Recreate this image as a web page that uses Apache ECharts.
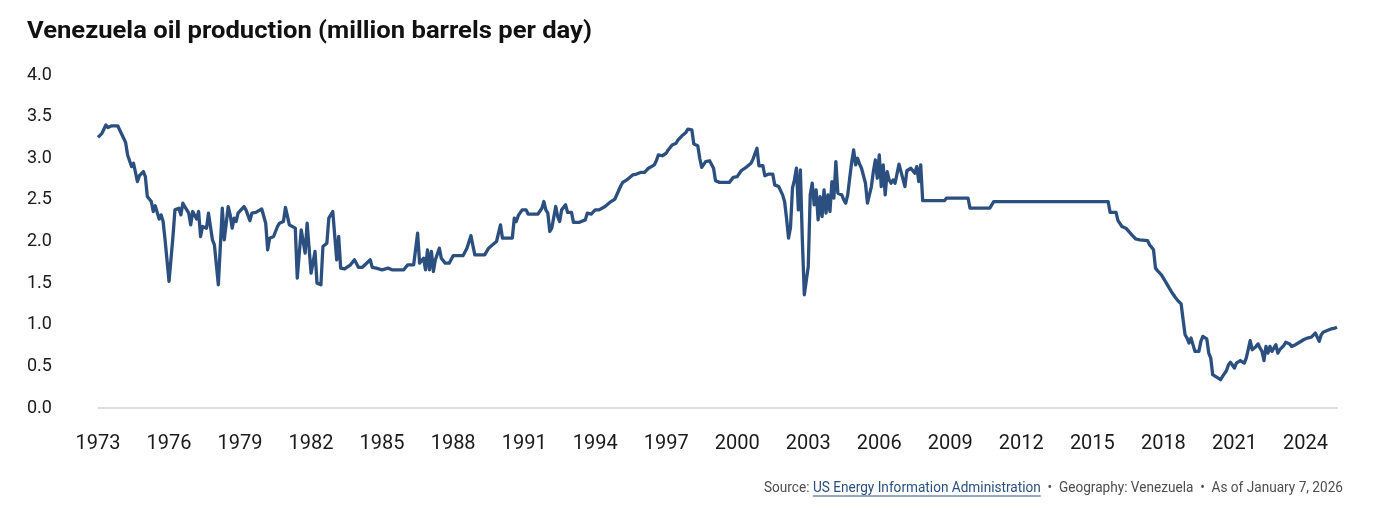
<!DOCTYPE html>
<html>
<head>
<meta charset="utf-8">
<title>Venezuela oil production</title>
<script src="https://cdn.jsdelivr.net/npm/echarts@6/dist/echarts.min.js"></script>
<style>
  html, body { margin: 0; padding: 0; background: #fff; }
  #chart { width: 1380px; height: 510px; }
</style>
</head>
<body>
<div id="chart"></div>
<script>
// monthly production, million barrels per day
const months = [
  '1973-01','1973-03','1973-05','1973-06','1973-08','1973-11','1973-12',
  '1974-02','1974-03','1974-04','1974-06','1974-07','1974-08','1974-09','1974-10','1974-12',
  '1975-01','1975-02','1975-04','1975-05','1975-06','1975-08','1975-09','1975-10','1975-11',
  '1976-01','1976-03','1976-04','1976-06','1976-07','1976-08','1976-09','1976-11','1976-12',
  '1977-01','1977-02','1977-03','1977-04','1977-05','1977-06','1977-08','1977-09','1977-10','1977-11','1977-12',
  '1978-02','1978-04','1978-05','1978-06','1978-07','1978-08','1978-09','1978-10','1978-11','1978-12',
  '1979-01','1979-03','1979-04','1979-05','1979-06','1979-07','1979-09','1979-12',
  '1980-02','1980-03','1980-04','1980-06','1980-08','1980-09','1980-11','1980-12',
  '1981-02','1981-03','1981-05','1981-06','1981-08','1981-10','1981-11','1981-12',
  '1982-01','1982-03','1982-04','1982-06','1982-07','1982-09','1982-10','1982-12',
  '1983-02','1983-03','1983-04','1983-06','1983-09','1983-11',
  '1984-01','1984-03','1984-04','1984-07','1984-08','1984-10',
  '1985-01','1985-04','1985-06','1985-12',
  '1986-02','1986-05','1986-07','1986-08','1986-09','1986-10','1986-11','1986-12',
  '1987-01','1987-02','1987-03','1987-04','1987-06','1987-07','1987-09','1987-11',
  '1988-01','1988-06','1988-08','1988-09','1988-10','1988-11','1988-12',
  '1989-03','1989-04','1989-05','1989-07','1989-08','1989-09','1989-10','1989-11','1989-12',
  '1990-01','1990-02','1990-07','1990-08','1990-09','1990-10','1990-12',
  '1991-02','1991-03','1991-08','1991-10','1991-11','1991-12',
  '1992-01','1992-02','1992-03','1992-05','1992-06','1992-07','1992-08','1992-10','1992-11',
  '1993-01','1993-02','1993-05','1993-08','1993-09','1993-11',
  '1994-01','1994-03','1994-04','1994-06','1994-09','1994-10','1994-11',
  '1995-02','1995-03','1995-05','1995-08','1995-10','1995-12',
  '1996-01','1996-02','1996-04','1996-05','1996-07','1996-08','1996-09','1996-10','1996-11',
  '1997-01','1997-02','1997-04','1997-06','1997-07','1997-09','1997-11','1997-12',
  '1998-02','1998-03','1998-04','1998-05','1998-06','1998-07','1998-09','1998-10','1998-11',
  '1999-01','1999-02','1999-04','1999-09','1999-11',
  '2000-01','2000-02','2000-03','2000-04','2000-06','2000-08','2000-09','2000-11','2000-12',
  '2001-02','2001-03','2001-04','2001-05','2001-07','2001-08','2001-09','2001-10','2001-12',
  '2002-01','2002-02','2002-03','2002-04','2002-05','2002-06','2002-07','2002-08','2002-09','2002-10','2002-11','2002-12',
  '2003-01','2003-02','2003-03','2003-04','2003-05','2003-06','2003-07','2003-08','2003-09','2003-10','2003-11','2003-12',
  '2004-01','2004-02','2004-03','2004-04','2004-05','2004-06','2004-07','2004-08','2004-09','2004-10','2004-11','2004-12',
  '2005-01','2005-02','2005-03','2005-04','2005-05','2005-06','2005-07','2005-08','2005-09','2005-10','2005-11','2005-12',
  '2006-01','2006-02','2006-03','2006-04','2006-05','2006-06','2006-07','2006-08','2006-09','2006-10','2006-11','2006-12',
  '2007-01','2007-02','2007-03','2007-04','2007-05','2007-06','2007-07','2007-08','2007-09','2007-10','2007-11',
  '2008-10','2008-11','2009-10','2009-11','2010-09','2010-11','2015-09','2015-10',
  '2016-01','2016-02','2016-04','2016-06','2016-07','2016-09','2016-11',
  '2017-01','2017-05','2017-06','2017-08','2017-09','2017-10','2017-12',
  '2018-02','2018-04','2018-05','2018-07','2018-08','2018-10','2018-11','2018-12',
  '2019-01','2019-02','2019-03','2019-04','2019-05','2019-07','2019-08','2019-09','2019-10','2019-11','2019-12',
  '2020-01','2020-02','2020-03','2020-04','2020-05','2020-06','2020-07','2020-08','2020-09','2020-10','2020-11','2020-12',
  '2021-01','2021-02','2021-03','2021-04','2021-05','2021-06','2021-07','2021-08','2021-09','2021-10','2021-11','2021-12',
  '2022-01','2022-02','2022-03','2022-04','2022-05','2022-06','2022-07','2022-08','2022-09','2022-10','2022-11','2022-12',
  '2023-01','2023-02','2023-03','2023-04','2023-05','2023-06','2023-07','2023-08','2023-09','2023-10','2023-11','2023-12',
  '2024-01','2024-02','2024-03','2024-04','2024-05','2024-06','2024-07','2024-08','2024-09','2024-10','2024-11','2024-12',
  '2025-01','2025-02','2025-03','2025-04','2025-05'
];
const production = [
  3.25,3.30,3.40,3.37,3.39,3.39,3.34,
  3.24,3.19,3.04,2.90,2.94,2.93,2.72,2.79,2.84,
  2.78,2.54,2.48,2.36,2.43,2.27,2.32,2.24,2.02,
  1.52,2.06,2.38,2.40,2.32,2.46,2.42,2.34,2.20,
  2.36,2.36,2.27,2.36,2.06,2.18,2.16,2.34,2.32,2.02,1.96,
  1.48,2.40,2.02,2.02,2.42,2.32,2.16,2.28,2.24,2.34,
  2.32,2.42,2.38,2.36,2.25,2.34,2.35,2.39,
  2.22,1.90,2.04,2.06,2.18,2.22,2.24,2.41,
  2.20,2.22,2.16,1.56,2.14,1.86,2.22,2.24,
  1.62,1.88,1.50,1.48,1.94,1.98,2.28,2.36,
  1.78,2.06,1.68,1.67,1.72,1.78,
  1.69,1.69,1.71,1.78,1.69,1.68,
  1.66,1.68,1.66,1.66,
  1.72,1.72,2.10,1.74,1.72,1.80,1.66,1.90,
  1.66,1.88,1.64,1.78,1.92,1.80,1.74,1.74,
  1.83,1.83,1.92,1.94,2.07,2.07,1.84,
  1.84,1.86,1.84,1.92,1.90,1.96,1.96,2.00,2.02,
  2.20,2.04,2.04,2.28,2.24,2.31,2.38,
  2.38,2.33,2.33,2.40,2.48,2.38,
  2.34,2.12,2.16,2.42,2.30,2.24,2.38,2.44,2.35,
  2.35,2.23,2.23,2.26,2.34,2.33,
  2.38,2.38,2.40,2.42,2.48,2.50,2.51,
  2.67,2.71,2.74,2.80,2.81,2.83,
  2.85,2.83,2.88,2.88,2.92,2.97,3.04,3.06,3.03,
  3.06,3.10,3.16,3.18,3.22,3.27,3.31,3.35,
  3.34,3.17,3.15,3.15,3.00,2.89,2.96,2.97,2.97,
  2.88,2.73,2.71,2.71,2.77,
  2.78,2.80,2.85,2.87,2.90,2.94,2.99,3.12,2.91,
  2.91,2.79,2.77,2.81,2.81,2.68,2.70,2.66,2.56,
  2.48,2.28,2.04,2.17,2.64,2.74,2.88,2.38,2.86,2.02,1.36,1.36,
  1.70,2.56,2.70,2.44,2.62,2.26,2.54,2.30,2.62,2.34,2.56,2.36,
  2.72,2.52,2.96,2.58,2.56,2.56,2.50,2.46,2.56,2.76,2.95,3.10,
  2.92,3.00,2.93,2.88,2.88,2.70,2.46,2.48,2.66,2.84,2.98,2.76,
  3.04,2.66,2.92,2.56,2.84,2.74,2.70,2.74,2.70,2.68,2.93,2.84,
  2.75,2.66,2.85,2.86,2.88,2.85,2.82,2.90,2.72,2.92,2.49,
  2.49,2.52,2.52,2.40,2.40,2.48,2.48,2.35,
  2.35,2.25,2.18,2.16,2.15,2.08,2.03,
  2.02,2.01,1.96,1.90,1.68,1.65,1.60,
  1.52,1.44,1.40,1.33,1.30,1.25,1.06,0.88,
  0.84,0.78,0.84,0.84,0.68,0.68,0.80,0.86,0.86,0.83,0.66,
  0.60,0.40,0.38,0.37,0.35,0.34,0.38,0.40,0.45,0.52,0.55,0.55,
  0.48,0.54,0.56,0.57,0.55,0.54,0.60,0.70,0.81,0.70,0.72,0.74,
  0.77,0.72,0.68,0.57,0.74,0.66,0.74,0.68,0.72,0.76,0.66,0.70,
  0.72,0.75,0.79,0.81,0.77,0.74,0.75,0.76,0.78,0.79,0.81,0.82,
  0.84,0.84,0.84,0.85,0.87,0.90,0.92,0.80,0.88,0.91,0.92,0.93,
  0.94,0.95,0.96,0.96,0.97
];
const yearStep = 3;
const firstYear = 1973;

const titleText = 'Venezuela oil production (million barrels per day)';
const sourceLabel = 'Source: ';
const sourceLink = 'US Energy Information Administration';
const footerRest = '  \u2022  Geography: Venezuela  \u2022  As of January 7, 2026';

const lineColor = '#2b4f7e';
const inkColor = '#1a1a1a';
const greyText = '#4d4d4d';

// month string -> fractional year for the value axis
function toYear(m) {
  const [y, mo] = m.split('-').map(Number);
  return y + (mo - 1) / 12;
}
const data = months.map((m, i) => [toYear(m), production[i]]);

const measure = document.createElement('canvas').getContext('2d');
function textWidth(str, font) {
  measure.font = font;
  return measure.measureText(str).width;
}

const titleFont = 'bold 24px Roboto';
const titleScale = 565 / textWidth(titleText, titleFont);

const footFont = '14px Roboto';
const wSource = textWidth(sourceLabel, footFont);
const wLink = textWidth(sourceLink, footFont);
const wRest = textWidth(footerRest, footFont);
const footScale = 579 / (wSource + wLink + wRest);
const footLeft = 1343 - (wSource + wLink + wRest) * footScale;

option = {
  backgroundColor: '#fff',
  animation: false,
  grid: {
    left: 98,
    right: 43,
    top: 75,
    bottom: 102,
  },
  xAxis: {
    type: 'value',
    min: firstYear,
    max: 'dataMax',
    interval: yearStep,
    axisLine: {show: true, lineStyle: {color: '#d3d3d3', width: 1.5}},
    axisTick: {show: false},
    splitLine: {show: false},
    axisLabel: {
      color: inkColor,
      fontFamily: 'Roboto',
      fontSize: 20,
      margin: 26,
      showMaxLabel: false,
      formatter: v => String(Math.round(v)),
    },
  },
  yAxis: {
    type: 'value',
    min: 0,
    max: 4,
    interval: 0.5,
    axisLine: {show: false},
    axisTick: {show: false},
    splitLine: {show: false},
    axisLabel: {
      color: inkColor,
      fontFamily: 'Roboto',
      fontSize: 18,
      align: 'left',
      margin: 71,
      verticalAlign: 'middle',
      lineHeight: 22,
      padding: [3, 0, 0, 0],
      formatter: v => v.toFixed(1),
    },
  },
  series: [
    {
      name: 'Oil production',
      type: 'line',
      data,
      showSymbol: false,
      symbol: 'none',
      lineStyle: {color: lineColor, width: 3.3, join: 'round'},
    }
  ],
  graphic: [
    {
      type: 'text',
      x: 27,
      y: 32,
      scaleX: titleScale,
      style: {
        text: titleText,
        font: titleFont,
        fill: '#111',
        textVerticalAlign: 'middle',
      },
    },
    {
      type: 'group',
      x: footLeft,
      y: 488,
      scaleX: footScale,
      children: [
        {type: 'text', x: 0, y: 0,
          style: {text: sourceLabel, font: footFont, fill: greyText, textVerticalAlign: 'middle'}},
        {type: 'text', x: wSource, y: 0,
          style: {text: sourceLink, font: footFont, fill: lineColor, textVerticalAlign: 'middle'}},
        {type: 'line', shape: {x1: wSource, y1: 8, x2: wSource + wLink, y2: 8},
          style: {stroke: lineColor, lineWidth: 1}},
        {type: 'text', x: wSource + wLink, y: 0,
          style: {text: footerRest, font: footFont, fill: greyText, textVerticalAlign: 'middle'}},
      ],
    },
  ],
};

dom = document.getElementById('chart');
chart = echarts.init(dom);
chart.setOption(option);
</script>
</body>
</html>
